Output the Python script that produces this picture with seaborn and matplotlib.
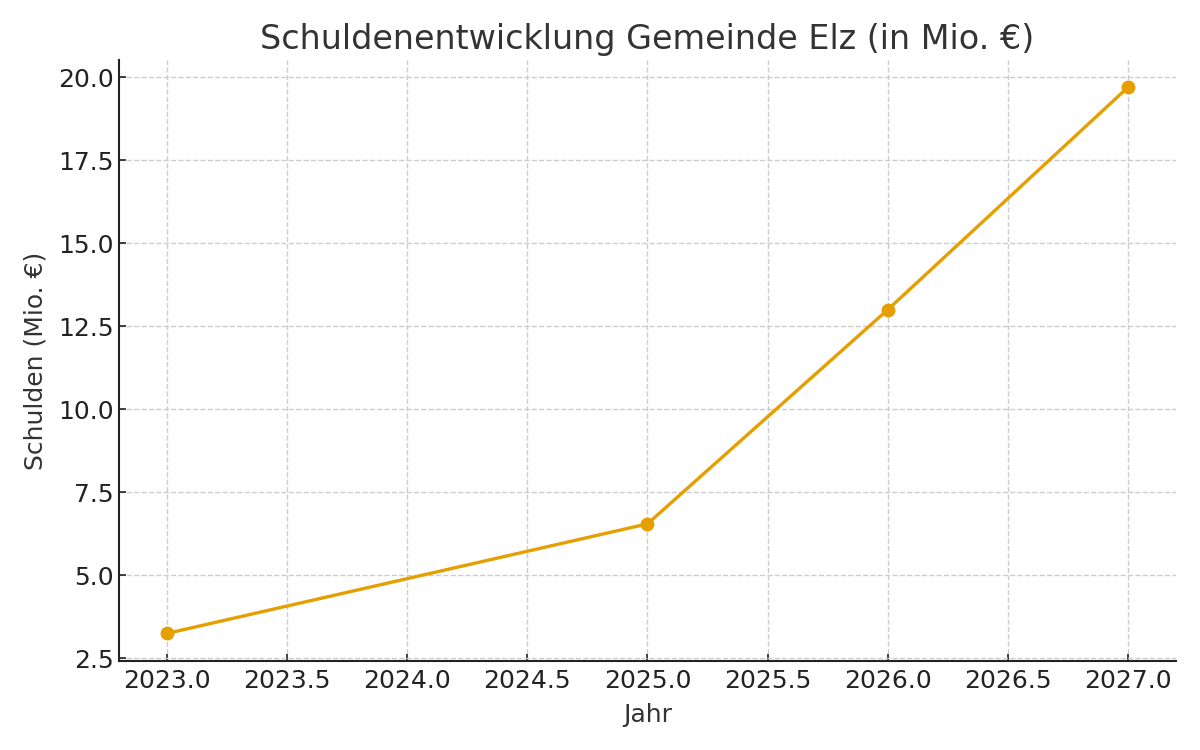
import matplotlib
matplotlib.use("Agg")
import matplotlib.pyplot as plt
import seaborn as sns
import pandas as pd

jahre = [2023, 2025, 2026, 2027]
schulden = [3.25, 6.55, 13.0, 19.7]

df = pd.DataFrame({"Jahr": jahre, "Schulden": schulden})

sns.set_theme(style="whitegrid")
plt.rcParams['font.family'] = ['DejaVu Sans']

fig = plt.figure(figsize=(12, 7.5), dpi=100)
ax = fig.add_axes([0.099, 0.119, 0.881, 0.801])

sns.lineplot(data=df, x="Jahr", y="Schulden", ax=ax, color="#E69F00",
             linewidth=2.4, marker="o", markersize=10, markeredgewidth=0)

ax.set_title("Schuldenentwicklung Gemeinde Elz (in Mio. €)", fontsize=24, color="#333333", pad=8)
ax.set_xlabel("Jahr", fontsize=18, color="#333333", labelpad=7)
ax.set_ylabel("Schulden (Mio. €)", fontsize=18, color="#333333", labelpad=8)
ax.tick_params(axis="both", labelsize=18, colors="#222222", direction="in", length=5, width=1.2)
ax.tick_params(axis="x", pad=6)
ax.tick_params(axis="both", which="both", left=True, bottom=True)

ax.grid(True, linestyle="--", color="#cccccc", linewidth=1)
ax.set_facecolor("white")
for s in ["top", "right"]:
    ax.spines[s].set_visible(False)
for s in ["left", "bottom"]:
    ax.spines[s].set_color("#222222")
    ax.spines[s].set_linewidth(1.5)

fig.savefig("out.png", dpi=100, facecolor="white")
